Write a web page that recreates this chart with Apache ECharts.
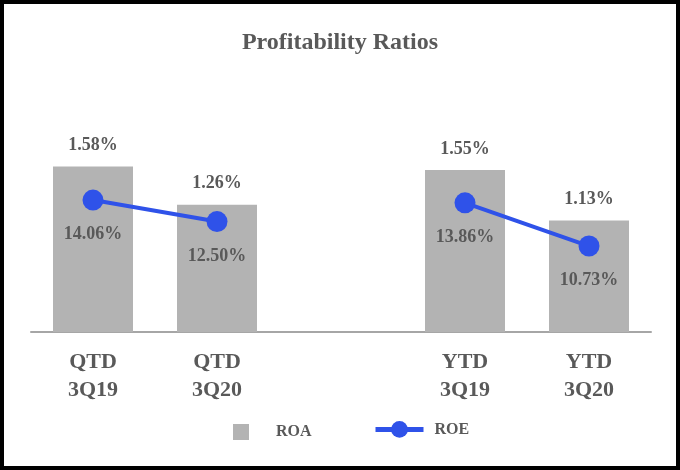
<!DOCTYPE html>
<html>
<head>
<meta charset="utf-8">
<script src="https://cdn.jsdelivr.net/npm/echarts@6/dist/echarts.min.js"></script>
<style>
html,body{margin:0;padding:0;background:#fff;}
#main{width:680px;height:470px;}
</style>
</head>
<body>
<div id="main"></div>
<script>
const categories = ['QTD\n3Q19', 'QTD\n3Q20', '', 'YTD\n3Q19', 'YTD\n3Q20'];
const roaValues = [1.58, 1.26, '-', 1.55, 1.13];
const roeValues = [14.06, 12.50, '-', 13.86, 10.73];
const titleText = 'Profitability Ratios';

const FONT = '"Liberation Serif", "Times New Roman", serif';
const TEXT = '#595959';
const BAR = '#b3b3b3';
const BLUE = '#2f52e9';

const chart = echarts.init(document.getElementById('main'));
chart.setOption({
  animation: false,
  backgroundColor: '#fff',
  title: {
    text: titleText,
    left: 'center',
    top: 26,
    textStyle: {fontFamily: FONT, fontWeight: 'bold', fontSize: 24, color: TEXT}
  },
  graphic: [{
    type: 'rect',
    shape: {x: 2, y: 2, width: 676, height: 466},
    style: {fill: 'none', stroke: '#000', lineWidth: 4},
    silent: true
  }],
  legend: [{
    data: ['ROA'],
    left: 233, top: 424, padding: 0,
    icon: 'rect', itemWidth: 16, itemHeight: 16,
    textStyle: {fontFamily: FONT, fontWeight: 'bold', fontSize: 16, color: TEXT, padding: [0, 0, 0, 22]}
  }, {
    data: ['ROE'],
    left: 373, top: 421, padding: 0,
    itemWidth: 48, itemHeight: 21,
    lineStyle: {width: 5},
    textStyle: {fontFamily: FONT, fontWeight: 'bold', fontSize: 16, color: TEXT, padding: [0, 0, 0, 6]}
  }],
  grid: {left: 31, right: 29, top: 116, bottom: 138},
  xAxis: {
    type: 'category',
    data: categories,
    axisLine: {lineStyle: {color: '#a6a6a6', width: 2}},
    axisTick: {show: false},
    axisLabel: {fontFamily: FONT, fontWeight: 'bold', fontSize: 22, color: TEXT, lineHeight: 28, margin: 16, interval: 0}
  },
  yAxis: [
    {type: 'value', min: 0.2, max: 2.0, show: false, splitLine: {show: false}},
    {type: 'value', min: 4.5, max: 20.15, show: false, splitLine: {show: false}}
  ],
  series: [{
    name: 'ROA',
    type: 'bar',
    yAxisIndex: 0,
    data: roaValues,
    barWidth: 80,
    itemStyle: {color: BAR},
    label: {
      show: true, position: 'top', distance: 12,
      formatter: p => p.value.toFixed(2) + '%',
      fontFamily: FONT, fontWeight: 'bold', fontSize: 18, color: TEXT
    }
  }, {
    name: 'ROE',
    type: 'line',
    yAxisIndex: 1,
    data: roeValues,
    connectNulls: false,
    symbol: 'circle',
    symbolSize: 21,
    lineStyle: {color: BLUE, width: 4},
    itemStyle: {color: BLUE},
    label: {
      show: true, position: 'bottom', distance: 15,
      formatter: p => p.value.toFixed(2) + '%',
      fontFamily: FONT, fontWeight: 'bold', fontSize: 18, color: TEXT
    }
  }]
});
</script>
</body>
</html>
